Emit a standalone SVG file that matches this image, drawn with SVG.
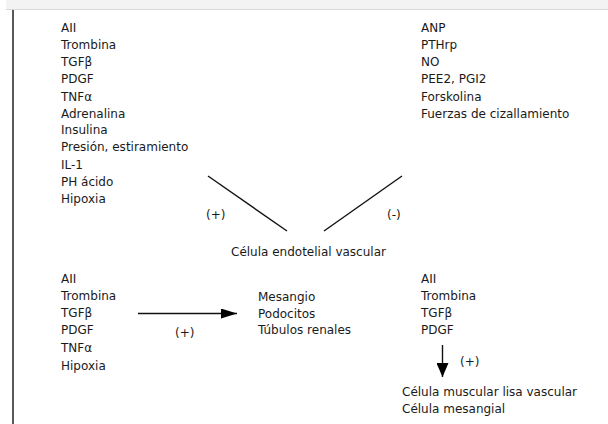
<svg xmlns="http://www.w3.org/2000/svg" width="608" height="424" viewBox="0 0 608 424">
  <style>
    text { font-family: "DejaVu Sans", Verdana, sans-serif; font-size: 12px; fill: #1a1a1a; }
    .ln { stroke: #111; stroke-width: 1.4; fill: none; }
  </style>
  <defs>
    <marker id="arrowHead" viewBox="0 0 16 10" refX="16" refY="5" markerWidth="16" markerHeight="10" markerUnits="userSpaceOnUse" orient="auto">
      <path d="M0,0 L16,5 L0,10 Z" fill="#000"/>
    </marker>
    <marker id="arrowHeadWide" viewBox="0 0 14 12" refX="14" refY="6" markerWidth="14" markerHeight="12" markerUnits="userSpaceOnUse" orient="auto">
      <path d="M0,0 L14,6 L0,12 Z" fill="#000"/>
    </marker>
  </defs>

  <rect x="0" y="0" width="608" height="424" fill="#ffffff"/>
  <!-- top strip and left rule -->
  <rect x="6" y="0" width="602" height="9" fill="#f3f3f3"/>
  <line x1="6" y1="9.5" x2="608" y2="9.5" stroke="#d8d8d8" stroke-width="1"/>
  <line x1="13" y1="10" x2="13" y2="424" stroke="#222" stroke-width="1.5"/>

  <g id="estimulantes">
    <text x="61" y="32">AII</text>
    <text x="61" y="49">Trombina</text>
    <text x="61" y="66">TGFβ</text>
    <text x="61" y="83">PDGF</text>
    <text x="61" y="100.5">TNFα</text>
    <text x="61" y="117.5">Adrenalina</text>
    <text x="61" y="134">Insulina</text>
    <text x="61" y="151">Presión, estiramiento</text>
    <text x="61" y="168.5">IL-1</text>
    <text x="61" y="185.5">PH ácido</text>
    <text x="61" y="202.5">Hipoxia</text>
  </g>

  <g id="inhibidores">
    <text x="421" y="32">ANP</text>
    <text x="421" y="49">PTHrp</text>
    <text x="421" y="66">NO</text>
    <text x="421" y="83">PEE2, PGI2</text>
    <text x="421" y="100.5">Forskolina</text>
    <text x="421" y="117.5">Fuerzas de cizallamiento</text>
  </g>

  <g id="endotelio">
    <text x="231" y="256">Célula endotelial vascular</text>
  </g>

  <g id="factores-renales">
    <text x="61" y="283">AII</text>
    <text x="61" y="300">Trombina</text>
    <text x="61" y="317">TGFβ</text>
    <text x="61" y="334">PDGF</text>
    <text x="61" y="352">TNFα</text>
    <text x="61" y="369.5">Hipoxia</text>
  </g>

  <g id="dianas-renales">
    <text x="258" y="301">Mesangio</text>
    <text x="258" y="317.5">Podocitos</text>
    <text x="258" y="334">Túbulos renales</text>
  </g>

  <g id="factores-musculares">
    <text x="421" y="283">AII</text>
    <text x="421" y="300">Trombina</text>
    <text x="421" y="317">TGFβ</text>
    <text x="421" y="334">PDGF</text>
  </g>

  <g id="celulas-diana">
    <text x="402" y="396">Célula muscular lisa vascular</text>
    <text x="402" y="413">Célula mesangial</text>
  </g>

  <g id="conectores">
    <line class="ln" x1="208" y1="176" x2="287" y2="231"/>
    <line class="ln" x1="324" y1="231" x2="402" y2="176"/>
    <text x="206" y="219">(+)</text>
    <text x="387" y="219">(-)</text>

    <line class="ln" x1="138" y1="313.5" x2="237" y2="313.5" marker-end="url(#arrowHead)"/>
    <text x="175" y="337">(+)</text>

    <line class="ln" x1="442.5" y1="345" x2="442.5" y2="377" marker-end="url(#arrowHeadWide)"/>
    <text x="460" y="366">(+)</text>
  </g>
</svg>
